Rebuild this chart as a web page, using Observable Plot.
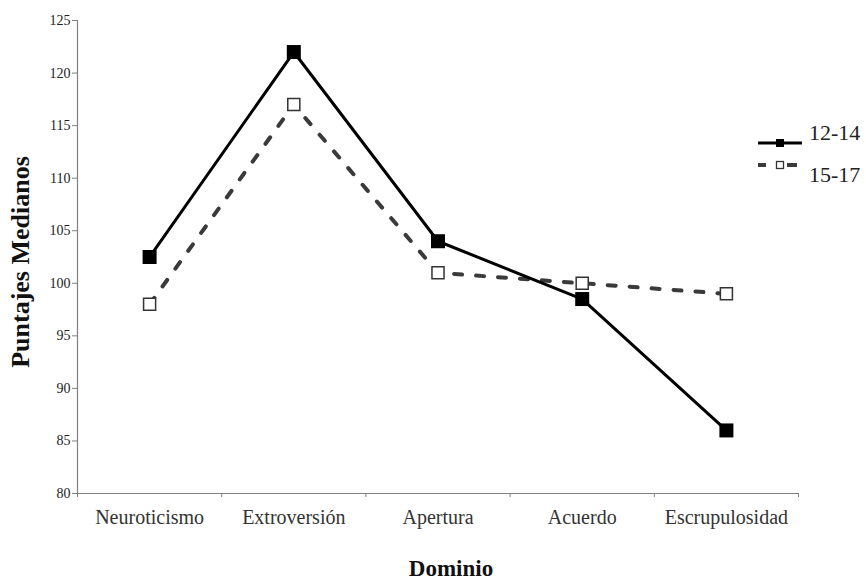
<!DOCTYPE html>
<html><head><meta charset="utf-8">
<script src="https://cdn.jsdelivr.net/npm/d3@7"></script>
<script src="https://cdn.jsdelivr.net/npm/@observablehq/plot@0.6"></script>
<style>
body{margin:0;background:#fff;}
#wrap{position:relative;width:866px;height:579px;}
#legend{position:absolute;left:750px;top:115px;overflow:visible;}
#legend text{font-family:"Liberation Serif","Times New Roman",serif;}
</style></head><body>
<div id="wrap"><div id="chart"></div>
<svg id="legend" width="116" height="70" viewBox="0 0 116 70">
  <line x1="8" y1="28" x2="52" y2="28" stroke="#000" stroke-width="3"/>
  <rect x="26" y="24" width="8" height="8" fill="#000"/>
  <text x="59" y="25" font-size="22" font-family="Liberation Serif" fill="#222">12-14</text>
  <line x1="8" y1="50" x2="16" y2="50" stroke="#3a3a3a" stroke-width="4"/>
  <line x1="37" y1="50" x2="47" y2="50" stroke="#3a3a3a" stroke-width="4"/>
  <rect x="26.5" y="46.5" width="7" height="7" fill="#fff" stroke="#333" stroke-width="1.3"/>
  <text x="59" y="67" font-size="22" font-family="Liberation Serif" fill="#222">15-17</text>
</svg>
</div>
<script>
const dominios = ["Neuroticismo", "Extroversión", "Apertura", "Acuerdo", "Escrupulosidad"];
const grupos = ["12-14", "15-17"];
const valores1214 = [102.5, 122, 104, 98.5, 86];
const valores1517 = [98, 117, 101, 100, 99];
const yTicks = [80, 85, 90, 95, 100, 105, 110, 115, 120, 125];

const serie1214 = dominios.map((d, i) => ({dominio: d, i, grupo: grupos[0], valor: valores1214[i]}));
const serie1517 = dominios.map((d, i) => ({dominio: d, i, grupo: grupos[1], valor: valores1517[i]}));
const limites = d3.range(dominios.length + 1).map(k => k - 0.5);
const centros = dominios.map((d, i) => i);

const chart = Plot.plot({
  width: 866,
  height: 579,
  marginLeft: 77,
  marginRight: 68,
  marginTop: 20,
  marginBottom: 86,
  style: {fontFamily: "'Liberation Serif', serif", background: "#fff", overflow: "visible"},
  x: {domain: [-0.5, dominios.length - 0.5], label: null, axis: null},
  y: {domain: [80, 125], label: null, axis: null},
  marks: [
    Plot.ruleY([80], {stroke: "#808080", strokeWidth: 1.2}),
    Plot.ruleX([-0.5], {stroke: "#808080", strokeWidth: 1.2}),
    Plot.axisY({ticks: yTicks, tickSize: 5, tickPadding: 2, fontSize: 14, stroke: "#808080", fill: "#222", label: null}),
    Plot.axisX({ticks: limites, tickFormat: () => "", tickSize: 4, stroke: "#808080", label: null}),
    Plot.axisX({ticks: centros, tickFormat: i => dominios[i], tickSize: 0, tickPadding: 16, fontSize: 20, fill: "#333", label: null}),
    Plot.text(["Puntajes Medianos"], {frameAnchor: "left", textAnchor: "middle", dx: -57, dy: 5, rotate: -90, fontSize: 26, fontWeight: "bold", fill: "#111"}),
    Plot.text(["Dominio"], {frameAnchor: "bottom", textAnchor: "middle", dx: 13, dy: 82, fontSize: 23, fontWeight: "bold", fill: "#111"}),
    Plot.line(serie1517, {x: "i", y: "valor", stroke: "#3a3a3a", strokeWidth: 4, strokeDasharray: "8,14"}),
    Plot.line(serie1214, {x: "i", y: "valor", stroke: "#000", strokeWidth: 3}),
    Plot.dot(serie1517, {x: "i", y: "valor", symbol: "square", r: 6.8, fill: "#fff", stroke: "#333", strokeWidth: 1.5}),
    Plot.dot(serie1214, {x: "i", y: "valor", symbol: "square", r: 7.9, fill: "#000", stroke: "none"})
  ]
});
document.getElementById("chart").appendChild(chart);
</script>
</body></html>
